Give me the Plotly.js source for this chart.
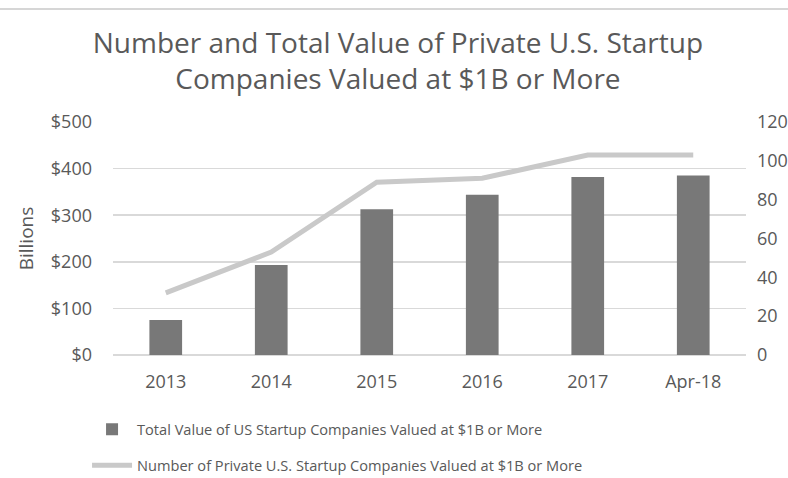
<!DOCTYPE html>
<html><head><meta charset="utf-8">
<script src="https://cdn.plot.ly/plotly-3.0.1.min.js"></script>
<style>html,body{margin:0;padding:0;background:#fff}#c{width:788px;height:478px}</style>
</head><body><div id="c"></div>
<script>
const categories = ["2013","2014","2015","2016","2017","Apr-18"];
const totalValue = [75, 193, 313, 344, 382, 385];
const numberCompanies = [32, 53, 89, 91, 103, 103];
const leftTicks = [0,100,200,300,400,500];
const leftTickText = ["$0","$100","$200","$300","$400","$500"];

const F = "'Open Sans', sans-serif";
const grey = "#595959";
const data = [
  {type:"bar", x:categories, y:totalValue, name:"Total Value of US Startup Companies Valued at $1B or More",
   marker:{color:"#787878"}, yaxis:"y", legendgroup:"a"},
  {type:"scatter", mode:"lines", x:categories, y:numberCompanies, name:"Number of Private U.S. Startup Companies Valued at $1B or More",
   line:{color:"#c9c9c9", width:5}, yaxis:"y2", legendgroup:"b"}
];
const layout = {
  width:788, height:478,
  margin:{l:113, r:42, t:122, b:123, autoexpand:false},
  paper_bgcolor:"#fff", plot_bgcolor:"#fff",
  font:{family:F, color:grey, size:16},
  title:{text:"Number and Total Value of Private U.S. Startup<br>Companies Valued at $1B or More",
    font:{family:F, size:28, color:grey}, x:0.505, xanchor:"center", y:0.89, yanchor:"middle"},
  bargap:0.69,
  showlegend:true,
  legend:{orientation:"v", traceorder:"grouped", x:-0.041, xref:"paper", xanchor:"left", y:-0.25, yanchor:"top", font:{size:14.6, color:grey},
    tracegroupgap:14, itemwidth:40},
  xaxis:{type:"category", showgrid:false, showline:false, ticks:"", tickfont:{size:18, color:grey}, ticklabelstandoff:14},
  yaxis:{range:[0,500], tickvals:leftTicks, ticktext:leftTickText, showgrid:true, gridcolor:"#d9d9d9", gridwidth:1.5,
    zeroline:true, zerolinecolor:"#d9d9d9", zerolinewidth:1.5, tickfont:{size:18, color:grey}, ticklabelstandoff:20,
    title:{text:"Billions", font:{size:19, color:grey}, standoff:12}},
  yaxis2:{overlaying:"y", side:"right", range:[0,120], dtick:20, showgrid:false, zeroline:false,
    tickfont:{size:18, color:grey}, ticklabelstandoff:10},
  shapes:[{type:"line", xref:"paper", yref:"paper", x0:-0.2, x1:1.1, y0:1.485, y1:1.485, line:{color:"#c8c8c8", width:1.5}}]
};
Plotly.newPlot("c", data, layout, {displayModeBar:false, staticPlot:true});
</script></body></html>
